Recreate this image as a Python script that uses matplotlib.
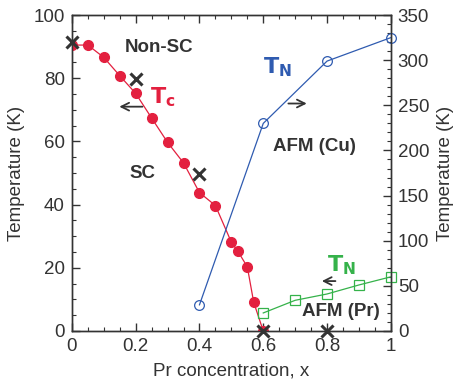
import matplotlib.pyplot as plt
from matplotlib.ticker import MultipleLocator

plt.rcParams['font.family'] = ['Liberation Sans', 'DejaVu Sans']

# Tc (left axis)
tc_x = [0.0, 0.05, 0.1, 0.15, 0.2, 0.25, 0.3, 0.35, 0.4, 0.45, 0.5, 0.52, 0.55, 0.57, 0.6]
tc_y = [90.5, 90.5, 86.6, 80.8, 75.2, 67.4, 59.7, 53.2, 43.8, 39.7, 28.1, 25.3, 20.3, 9.1, 0.0]

# non-SC points (left axis)
nsc_x = [0.0, 0.2, 0.4, 0.6, 0.8]
nsc_y = [91.6, 79.8, 49.8, 0.0, 0.0]

# TN Cu (right axis)
tn_cu_x = [0.4, 0.6, 0.8, 1.0]
tn_cu_y = [29, 230, 299, 325]

# TN Pr (right axis)
tn_pr_x = [0.6, 0.7, 0.8, 0.9, 1.0]
tn_pr_y = [20, 34, 41, 51, 60]

red = '#e3203f'
blue = '#2f5bb0'
green = '#35b24a'
ink = '#333333'

fig = plt.figure(figsize=(4.55, 3.86), dpi=100)
ax = fig.add_axes([0.158, 0.1425, 0.701, 0.8185])
ax2 = ax.twinx()

ax.plot(tc_x, tc_y, '-o', color=red, lw=0.9, ms=7, mec=red, zorder=3)
ax.plot(nsc_x, nsc_y, 'x', color=ink, ms=8, mew=2.2, zorder=4, clip_on=False)
ax2.plot(tn_cu_x, tn_cu_y, '-o', color=blue, lw=0.9, ms=7, mfc='none', mew=0.9, clip_on=False)
ax2.plot(tn_pr_x, tn_pr_y, '-s', color=green, lw=0.9, ms=7, mfc='none', mew=0.9, clip_on=False)

ax.set_xlim(0, 1)
ax.set_ylim(0, 100)
ax2.set_ylim(0, 350)

ax.xaxis.set_minor_locator(MultipleLocator(0.05))
ax.yaxis.set_major_locator(MultipleLocator(20))
ax.yaxis.set_minor_locator(MultipleLocator(5))
ax2.yaxis.set_major_locator(MultipleLocator(50))
ax2.yaxis.set_minor_locator(MultipleLocator(10))
ax.set_xticks([0, 0.2, 0.4, 0.6, 0.8, 1.0])
ax.set_xticklabels(['0', '0.2', '0.4', '0.6', '0.8', '1'])

for a in (ax, ax2):
    a.tick_params(which='both', direction='in', colors=ink, labelsize=13.5, top=True, pad=5)
    a.tick_params(which='major', length=6, width=1)
    a.tick_params(which='minor', length=3, width=0.8)
    for s in a.spines.values():
        s.set_color(ink)
        s.set_linewidth(1)
ax.tick_params(axis='y', which='both', right=False)
ax2.tick_params(axis='y', which='both', left=False)

ax.set_xlabel('Pr concentration, x', fontsize=13.5, color=ink)
ax.set_ylabel('Temperature (K)', fontsize=13.5, color=ink)
ax2.set_ylabel('Temperature (K)', fontsize=13.5, color=ink)
ax.xaxis.set_label_coords(0.5, -0.101)
ax.yaxis.set_label_coords(-0.147, 0.5)
ax2.yaxis.set_label_coords(1.144, 0.5)

bold = dict(fontsize=13.5, fontweight='bold', color=ink)
ax.text(0.166, 89.8, 'Non-SC', ha='left', va='center', **bold)
ax.text(0.182, 50, 'SC', ha='left', va='center', **bold)
ax.text(0.63, 58.5, 'AFM (Cu)', ha='left', va='center', **bold)
ax.text(0.721, 6.3, 'AFM (Pr)', ha='left', va='center', **bold)

ax.text(0.285, 74, '$\\mathbf{T}_\\mathbf{c}$', color=red, fontsize=16, ha='center', va='center')
ax.text(0.645, 83.5, '$\\mathbf{T}_\\mathbf{N}$', color=blue, fontsize=16, ha='center', va='center')
ax.text(0.845, 20.8, '$\\mathbf{T}_\\mathbf{N}$', color=green, fontsize=16, ha='center', va='center')

arrow = dict(arrowstyle='->', color=ink, lw=1.3, mutation_scale=14)
ax.annotate('', xy=(0.14, 71), xytext=(0.23, 71), arrowprops=arrow)
ax.annotate('', xy=(0.745, 72), xytext=(0.67, 72), arrowprops=arrow)
ax.annotate('', xy=(0.775, 15.8), xytext=(0.835, 15.8), arrowprops=arrow)

fig.savefig('out.png', dpi=100)
